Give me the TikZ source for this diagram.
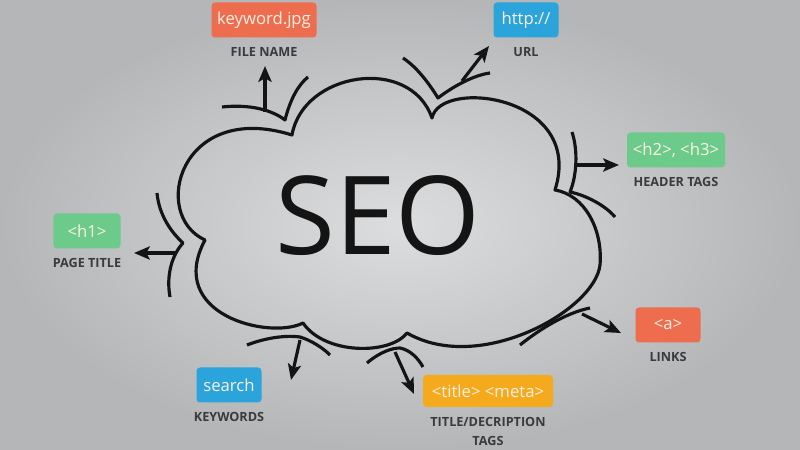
\documentclass[tikz,border=0pt]{standalone}
\usepackage{fontspec}
\setmainfont{Open Sans}
\usetikzlibrary{positioning,arrows.meta}

\definecolor{bgin}{HTML}{DCDDDF}
\definecolor{bgout}{HTML}{B5B6B8}
\definecolor{tagorange}{HTML}{EE6D4E}
\definecolor{tagblue}{HTML}{2BA3DB}
\definecolor{taggreen}{HTML}{6CCA8B}
\definecolor{tagyellow}{HTML}{F5AA1E}
\definecolor{tagtext}{HTML}{FCF1E4}
\definecolor{capgray}{HTML}{3A3B3D}
\definecolor{inkline}{HTML}{141414}

\tikzset{
  tagbox/.style={rounded corners=2pt, minimum height=7mm, inner xsep=1mm,
    text=tagtext, font=\fontsize{9.5}{11}\selectfont},
  caption/.style={text=capgray, font=\fontsize{7.2}{10.8}\selectfont\bfseries,
    align=center, inner sep=0pt},
  cloudline/.style={draw=inkline, line width=1.8pt, line join=round},
  pointer/.style={draw=inkline, line width=1.8pt,
    -{Stealth[length=9pt, width=7.5pt, inset=2pt]}},
}

\begin{document}
\begin{tikzpicture}[x=0.2mm, y=-0.2mm]
    \shade[inner color=bgin, outer color=bgout] (0,0) rectangle (800,450);
    \useasboundingbox (0,0) rectangle (800,450);

    % cloud
    \draw[cloudline] (292,135) .. controls (303,72) and (410,55) .. (432,118)
        .. controls (440,78) and (585,95) .. (555,190)
        .. controls (585,195) and (603,230) .. (600,265)
        .. controls (595,310) and (480,375) .. (407,333)
        .. controls (390,355) and (325,355) .. (303,323)
        .. controls (270,340) and (165,315) .. (205,240)
        .. controls (150,215) and (180,100) .. cycle;

    \node[text=inkline, font=\fontsize{62}{62}\selectfont] (seo) at (378,216) {SEO};

    % outer strokes
    \draw[cloudline] (222,107) .. controls (250,104) and (272,110) .. (285,120)
        .. controls (290,100) and (298,85) .. (308,77);
    \draw[cloudline] (403,58) .. controls (418,68) and (430,85) .. (438,98)
        .. controls (455,85) and (475,75) .. (490,73);
    \draw[cloudline] (572,132) .. controls (578,150) and (577,175) .. (570,192)
        .. controls (585,195) and (605,205) .. (615,217);
    \draw[cloudline] (157,193) .. controls (159,215) and (171,232) .. (183,243)
        .. controls (172,255) and (166,275) .. (170,297);
    \draw[cloudline] (520,345) .. controls (545,325) and (570,312) .. (590,308);
    \draw[cloudline] (367,363) .. controls (380,352) and (392,348) .. (400,348)
        .. controls (410,350) and (418,358) .. (423,367);
    \draw[cloudline] (247,345) .. controls (265,338) and (285,335) .. (300,337)
        .. controls (310,340) and (322,347) .. (330,355);

    % tags and captions
    \node[tagbox, fill=tagorange, minimum width=21mm] (fname) at (264,20) {keyword.jpg};
    \node[caption, below=1.9mm of fname] (fnamecap) {FILE NAME};
    \node[tagbox, fill=tagblue, minimum width=13mm] (url) at (526,20) {http://};
    \node[caption, below=1.9mm of url] (urlcap) {URL};
    \node[tagbox, fill=taggreen, minimum width=19.6mm] (hdr) at (676,150) {<h2>, <h3>};
    \node[caption, below=1.9mm of hdr] (hdrcap) {HEADER TAGS};
    \node[tagbox, fill=taggreen, minimum width=13.4mm] (ptitle) at (87,231) {<h1>};
    \node[caption, below=1.9mm of ptitle] (ptitlecap) {PAGE TITLE};
    \node[tagbox, fill=tagorange, minimum width=13mm] (links) at (668,325) {<a>};
    \node[caption, below=1.9mm of links] (linkscap) {LINKS};
    \node[tagbox, fill=tagyellow, minimum width=26mm, minimum height=6.4mm] (meta) at (488,391) {<title> <meta>};
    \node[caption, below=2mm of meta] (metacap) {TITLE/DECRIPTION\\TAGS};
    \node[tagbox, fill=tagblue, minimum width=13mm] (kw) at (229,385) {search};
    \node[caption, below=1.9mm of kw] (kwcap) {KEYWORDS};

    % arrows
    \coordinate (fnbase) at (265,112);  \coordinate (fntip) at (265,66);
    \coordinate (urlbase) at (462,81);  \coordinate (urltip) at (489,46);
    \coordinate (hdrbase) at (574,165); \coordinate (hdrtip) at (619,165);
    \coordinate (ptbase) at (176,253);  \coordinate (pttip) at (134,253);
    \coordinate (lkbase) at (582,314);  \coordinate (lktip) at (621,333);
    \coordinate (mtbase) at (395,352);  \coordinate (mttip) at (414,394);
    \coordinate (kwbase) at (300,340);  \coordinate (kwtip) at (291,380);

    \draw[pointer] (fnbase) -- (fntip);
    \draw[pointer] (urlbase) -- (urltip);
    \draw[pointer] (hdrbase) -- (hdrtip);
    \draw[pointer] (ptbase) -- (pttip);
    \draw[pointer] (lkbase) -- (lktip);
    \draw[pointer] (mtbase) -- (mttip);
    \draw[pointer] (kwbase) -- (kwtip);
\end{tikzpicture}
\end{document}
